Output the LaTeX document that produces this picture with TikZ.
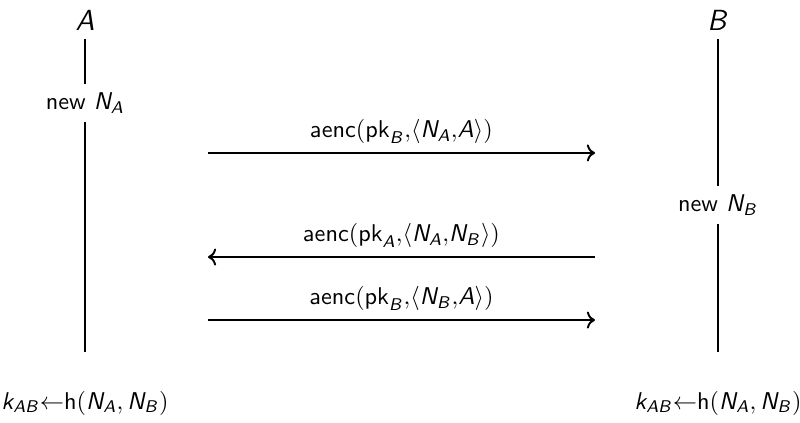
\documentclass[tikz,border=0pt]{standalone}
\usepackage{amsmath}
\usetikzlibrary{arrows.meta, positioning}
\DeclareMathAlphabet{\mathsfit}{OT1}{cmss}{m}{sl}
\newcommand{\sv}[1]{\mathsfit{#1}}

\begin{document}
\begin{tikzpicture}[
    party/.style={font=\large\sffamily},
    act/.style={font=\sffamily},
    lifeline/.style={thick},
    msg/.style={->, thick},
    >=To
]
  \useasboundingbox (0,0) rectangle (11.594,-6.130);

  % participants
  \node[party] (A) at (1.232, -0.29) {$\sv{A}$};
  \node[party] (B) at (10.406, -0.29) {$\sv{B}$};

  \node[act] (newNA) at (1.232, -1.493) {new $\sv{N}_{\sv{A}}$};
  \node[act] (newNB) at (10.406, -2.971) {new $\sv{N}_{\sv{B}}$};

  \coordinate (endA) at (1.232, -5.101);
  \coordinate (endB) at (10.406, -5.101);

  \node[act] (keyA) at (1.232, -5.84) {$\sv{k}_{\sv{AB}}{\leftarrow}\mathsf{h}(\sv{N}_{\sv{A}},\sv{N}_{\sv{B}})$};
  \node[act] (keyB) at (10.406, -5.84) {$\sv{k}_{\sv{AB}}{\leftarrow}\mathsf{h}(\sv{N}_{\sv{A}},\sv{N}_{\sv{B}})$};

  % lifelines
  \draw[lifeline] (A) -- (newNA) -- (endA);
  \draw[lifeline] (B) -- (newNB) -- (endB);

  % messages
  \coordinate (m1a) at (3.014, -2.217);
  \coordinate (m1b) at (8.623, -2.217);
  \coordinate (m2a) at (8.623, -3.725);
  \coordinate (m2b) at (3.014, -3.725);
  \coordinate (m3a) at (3.014, -4.638);
  \coordinate (m3b) at (8.623, -4.638);

  \draw[msg] (m1a) -- node[above, act] {$\mathsf{aenc}(\mathsf{pk}_{\sv{B}}{,}\langle \sv{N}_{\sv{A}}{,}\sv{A}\rangle)$} (m1b);
  \draw[msg] (m2a) -- node[above, act] {$\mathsf{aenc}(\mathsf{pk}_{\sv{A}}{,}\langle \sv{N}_{\sv{A}}{,}\sv{N}_{\sv{B}}\rangle)$} (m2b);
  \draw[msg] (m3a) -- node[above, act] {$\mathsf{aenc}(\mathsf{pk}_{\sv{B}}{,}\langle \sv{N}_{\sv{B}}{,}\sv{A}\rangle)$} (m3b);
\end{tikzpicture}
\end{document}
